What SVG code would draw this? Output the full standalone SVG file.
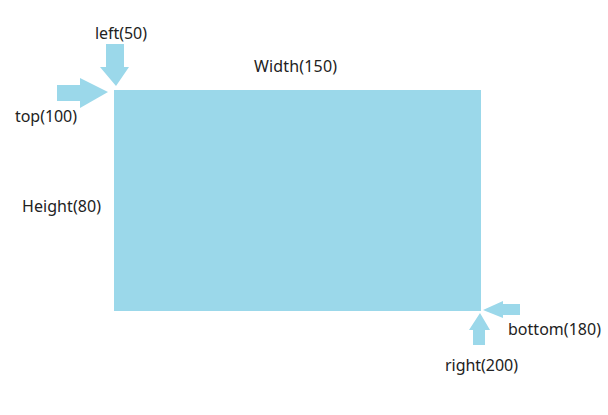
<svg xmlns="http://www.w3.org/2000/svg" width="608" height="415" viewBox="0 0 608 415">
<style>
.t{font-family:"Noto Sans","Open Sans",sans-serif;font-size:16px;fill:#222}
.a{fill:#9bd8ea}
</style>
<rect width="608" height="415" fill="#fff"/>
<g id="box"><rect x="114" y="90" width="367" height="221" class="a"/></g>
<g id="connectors">
<path class="a" d="M106,44 H124 V67 H129 L116,86 L100,67 H106 Z"/>
<path class="a" d="M57,85 H80 V78 L108,92 L80,108 V101 H57 Z"/>
<path class="a" d="M520,304 H503 V301 L483,310 L503,318 V315 H520 Z"/>
<path class="a" d="M473,345 V330 H469 L480,313 L490,330 H485 V345 Z"/>
</g>
<g id="labels">
<text class="t" x="95" y="39" textLength="52">left(50)</text>
<text class="t" x="254" y="72" textLength="83">Width(150)</text>
<text class="t" x="15" y="122" textLength="62">top(100)</text>
<text class="t" x="22" y="212" textLength="79">Height(80)</text>
<text class="t" x="508" y="335" textLength="93">bottom(180)</text>
<text class="t" x="445" y="371" textLength="73">right(200)</text>
</g>
</svg>
